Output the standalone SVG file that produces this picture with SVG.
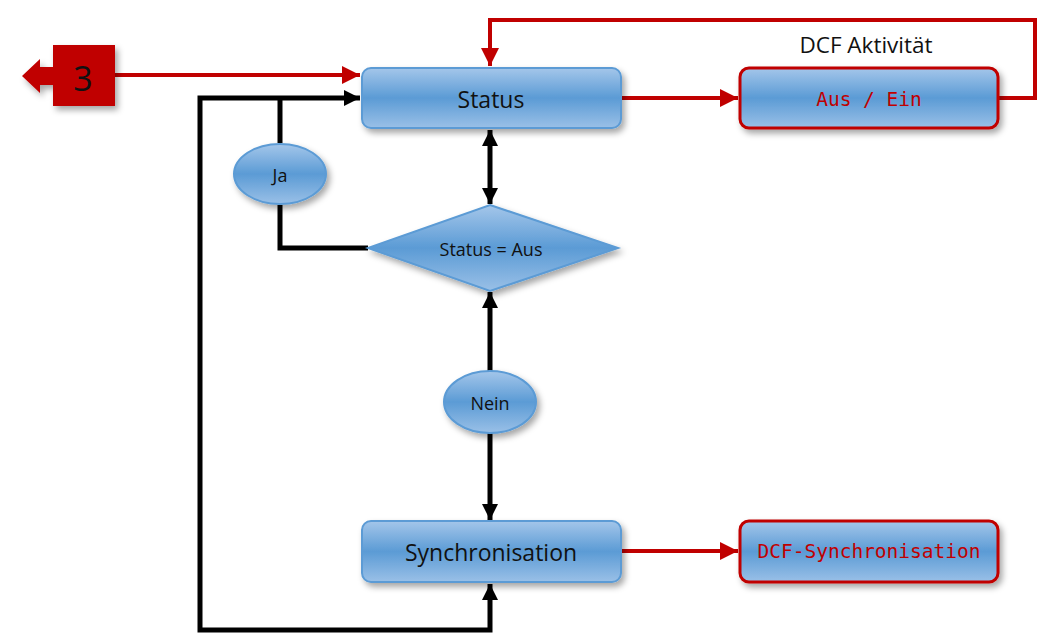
<svg xmlns="http://www.w3.org/2000/svg" width="1057" height="636" viewBox="0 0 1057 636">
<style>
.lbl{font-family:"Open Sans","Liberation Sans",sans-serif;fill:#111;text-anchor:middle;dominant-baseline:central}
.mono{font-family:"DejaVu Sans Mono","Liberation Mono",monospace;fill:#c00000;text-anchor:middle;dominant-baseline:central}
.blk{fill:none;stroke:#000;stroke-width:5}
.red{fill:none;stroke:#c00000;stroke-width:4}
.shape{fill:url(#g);stroke:#5b9bd5;stroke-width:2;filter:url(#sh)}
.rshape{fill:url(#g);stroke:#c00000;stroke-width:3;filter:url(#sh)}
</style>
<defs>
<linearGradient id="g" x1="0" y1="0" x2="0" y2="1">
<stop offset="0" stop-color="#a4c6ea"/>
<stop offset="0.5" stop-color="#5b9bd5"/>
<stop offset="1" stop-color="#9ac0e7"/>
</linearGradient>
<filter id="sh" x="-20%" y="-30%" width="140%" height="170%">
<feDropShadow dx="3" dy="4" stdDeviation="3" flood-color="#000" flood-opacity="0.35"/>
</filter>
<marker id="ab" viewBox="0 0 10 10" refX="10" refY="5" markerWidth="3.2" markerHeight="3.4" orient="auto-start-reverse" markerUnits="strokeWidth"><path d="M0,0L10,5L0,10z" fill="#000"/></marker>
<marker id="ar" viewBox="0 0 10 10" refX="10" refY="5" markerWidth="5" markerHeight="4.5" orient="auto" markerUnits="strokeWidth"><path d="M0,0L10,5L0,10z" fill="#c00000"/></marker>
</defs>
<g id="connectors">
<path class="red" d="M115,75H360" marker-end="url(#ar)"/>
<path class="red" d="M998,98H1035V20H490V66" marker-end="url(#ar)"/>
<path class="red" d="M621,98H738" marker-end="url(#ar)"/>
<path class="red" d="M621,551H738" marker-end="url(#ar)"/>
<path class="blk" d="M490,584V630H200V98H360" marker-start="url(#ab)" marker-end="url(#ab)"/>
<path class="blk" d="M280,98V143"/>
<path class="blk" d="M280,205V248H368"/>
<path class="blk" d="M490,130V204" marker-start="url(#ab)" marker-end="url(#ab)"/>
<path class="blk" d="M490,371V292" marker-end="url(#ab)"/>
<path class="blk" d="M490,433V520" marker-end="url(#ab)"/>
</g>
<g id="badge3">
<g filter="url(#sh)">
<path d="M22,76L40,59V67H53V85H40V93Z" fill="#c00000"/>
<rect x="53" y="45" width="62" height="61" fill="#c00000"/>
</g>
<text x="83" y="78" class="lbl" style="font-size:34px">3</text>
</g>
<g id="dcfLabel"><text x="866" y="44" class="lbl" style="font-size:22.5px">DCF Aktivität</text></g>
<g id="status">
<rect class="shape" x="362" y="68" width="259" height="60" rx="9"/>
<text x="491" y="99" class="lbl" style="font-size:23px">Status</text>
</g>
<g id="ausein">
<rect class="rshape" x="740" y="68" width="258" height="60" rx="9"/>
<text x="869" y="99" class="mono" style="font-size:19.5px">Aus / Ein</text>
</g>
<g id="ja">
<ellipse class="shape" cx="280" cy="174" rx="46" ry="30"/>
<text x="280" y="175" class="lbl" style="font-size:18px">Ja</text>
</g>
<g id="decision">
<path class="shape" d="M490,205L618,248L490,291L368,248Z"/>
<text x="491" y="249" class="lbl" style="font-size:18px">Status = Aus</text>
</g>
<g id="nein">
<ellipse class="shape" cx="490" cy="402" rx="46" ry="31"/>
<text x="490" y="403" class="lbl" style="font-size:18px">Nein</text>
</g>
<g id="sync">
<rect class="shape" x="362" y="521" width="259" height="61" rx="9"/>
<text x="491" y="552" class="lbl" style="font-size:23px">Synchronisation</text>
</g>
<g id="dcfsync">
<rect class="rshape" x="740" y="521" width="258" height="61" rx="9"/>
<text x="869" y="551" class="mono" style="font-size:19.5px">DCF-Synchronisation</text>
</g>
</svg>
